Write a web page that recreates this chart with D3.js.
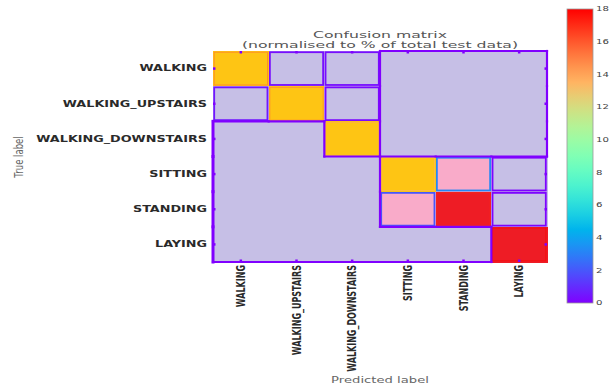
<!DOCTYPE html>
<html>
<head>
<meta charset="utf-8">
<script src="https://cdn.jsdelivr.net/npm/d3@7"></script>
<style>
  html, body { margin: 0; padding: 0; background: #fff; }
  svg { display: block; }
  text { font-family: "DejaVu Sans", sans-serif; }
</style>
</head>
<body>
<svg id="chart" width="614" height="388"></svg>
<script>
// Activity classes (rows = true label, columns = predicted label)
const classes = ["WALKING", "WALKING_UPSTAIRS", "WALKING_DOWNSTAIRS", "SITTING", "STANDING", "LAYING"];

// Confusion matrix, normalised to % of total test data
const rowWalking     = [15.6, 0.3, 0.3, 0, 0, 0];
const rowUpstairs    = [0.5, 15.3, 0.2, 0, 0, 0];
const rowDownstairs  = [0, 0, 13.9, 0, 0, 0];
const rowSitting     = [0, 0, 0, 13.4, 3.2, 0.1];
const rowStanding    = [0, 0, 0, 2.0, 17.0, 0.1];
const rowLaying      = [0, 0, 0, 0, 0, 18.1];
const matrix = [rowWalking, rowUpstairs, rowDownstairs, rowSitting, rowStanding, rowLaying];

const colorbarTicks = [0, 2, 4, 6, 8, 10, 12, 14, 16, 18];

const svg = d3.select("#chart");

// matplotlib-style "rainbow" colour map
function rainbow(t) {
  t = Math.max(0, Math.min(1, t));
  const r = Math.min(1, Math.abs(2 * t - 0.5));
  const g = Math.sin(Math.PI * t);
  const b = Math.cos(Math.PI * t / 2);
  return d3.rgb(r * 255, g * 255, b * 255).formatHex();
}
const edgeColor = d3.scaleSequential(rainbow).domain([0, 18]);
const fillColor = d3.scaleThreshold()
  .domain([1, 8, 16.5])
  .range(["#c6bfe6", "#f9abc9", "#fec514", "#ee1c25"]);

const x = d3.scaleBand().domain(d3.range(6)).range([213, 547]);
const y = d3.scaleBand().domain(d3.range(6)).range([51, 262]);

const cells = [];
matrix.forEach((row, r) => row.forEach((v, c) => cells.push({ r, c, v })));

const g = svg.append("g");

// cell fills
g.selectAll("rect.fill").data(cells).join("rect")
  .attr("class", "fill")
  .attr("x", d => x(d.c)).attr("y", d => y(d.r))
  .attr("width", x.bandwidth() + 0.6).attr("height", y.bandwidth() + 0.6)
  .attr("shape-rendering", "crispEdges")
  .attr("fill", d => fillColor(d.v));

// outlines of non-zero cells, coloured by value
g.selectAll("rect.edge").data(cells.filter(d => d.v > 0)).join("rect")
  .attr("class", "edge")
  .attr("x", d => x(d.c) + 1.2).attr("y", d => y(d.r) + 1.2)
  .attr("width", x.bandwidth() - 2.4).attr("height", y.bandwidth() - 2.4)
  .attr("fill", "none")
  .attr("stroke", d => edgeColor(d.v))
  .attr("stroke-opacity", d => d.v > 8 ? 0.6 : 1)
  .attr("stroke-width", d => d.v > 8 ? 0.9 : 1.8);

// boundary of the zero-valued region
const zeroEdges = [];
const isZero = (r, c) => r >= 0 && r < 6 && c >= 0 && c < 6 && matrix[r][c] === 0;
cells.filter(d => d.v === 0).forEach(d => {
  const x0 = x(d.c), x1 = x(d.c) + x.bandwidth();
  const y0 = y(d.r), y1 = y(d.r) + y.bandwidth();
  if (!isZero(d.r - 1, d.c)) zeroEdges.push([x0, y0, x1, y0]);
  if (!isZero(d.r + 1, d.c)) zeroEdges.push([x0, y1, x1, y1]);
  if (!isZero(d.r, d.c - 1)) zeroEdges.push([x0, y0, x0, y1]);
  if (!isZero(d.r, d.c + 1)) zeroEdges.push([x1, y0, x1, y1]);
});
g.selectAll("line.zero").data(zeroEdges).join("line")
  .attr("class", "zero")
  .attr("x1", d => d[0]).attr("y1", d => d[1])
  .attr("x2", d => d[2]).attr("y2", d => d[3])
  .attr("stroke", edgeColor(0))
  .attr("stroke-width", d => d[0] === 213 && d[2] === 213 ? 3 : 2.2)
  .attr("stroke-linecap", "square");

// tick marks on all four sides (band axes centre them in each cell)
const tickCol = edgeColor(0);
[
  [d3.axisTop(x), "translate(0,51)"],
  [d3.axisBottom(x), "translate(0,262)"],
  [d3.axisLeft(y), "translate(213,0)"],
  [d3.axisRight(y), "translate(547,0)"]
].forEach(([ax, tr]) => {
  const a = svg.append("g").attr("transform", tr)
    .call(ax.tickSize(-2.5).tickFormat(""));
  a.select(".domain").remove();
  a.selectAll(".tick line").attr("stroke", tickCol).attr("stroke-width", 2.5);
});

// row labels
svg.append("g").selectAll("text").data(classes).join("text")
  .attr("transform", (d, i) => `translate(207,${y(i) + y.bandwidth() / 2}) scale(1.6,1)`)
  .attr("text-anchor", "end").attr("dy", "0.35em")
  .attr("font-size", 8).attr("font-weight", "bold").attr("fill", "#2a2a2a")
  .text(d => d);

// column labels (vertical)
svg.append("g").selectAll("text").data(classes).join("text")
  .attr("transform", (d, i) => `translate(${x(i) + x.bandwidth() / 2},265) scale(1.45,1) rotate(-90)`)
  .attr("text-anchor", "end").attr("dy", "0.35em")
  .attr("font-size", 8).attr("font-weight", "bold").attr("fill", "#2a2a2a")
  .text(d => d);

// title
svg.append("text").attr("transform", "translate(380,37.5) scale(1.65,1)")
  .attr("text-anchor", "middle").attr("font-size", 9.5).attr("fill", "#555")
  .text("Confusion matrix");
svg.append("text").attr("transform", "translate(380,47.5) scale(1.65,1)")
  .attr("text-anchor", "middle").attr("font-size", 9.5).attr("fill", "#555")
  .text("(normalised to % of total test data)");

// axis titles
svg.append("text").attr("transform", "translate(23,157) scale(1.45,1) rotate(-90)")
  .attr("text-anchor", "middle").attr("font-size", 8.5).attr("fill", "#666")
  .text("True label");
svg.append("text").attr("transform", "translate(380,383) scale(1.55,1)")
  .attr("text-anchor", "middle").attr("font-size", 8.5).attr("fill", "#666")
  .text("Predicted label");

// colour bar
const cb = d3.scaleLinear().domain([0, 18]).range([303, 9]);
const defs = svg.append("defs");
const grad = defs.append("linearGradient").attr("id", "cbar")
  .attr("x1", 0).attr("y1", 1).attr("x2", 0).attr("y2", 0);
d3.range(0, 1.0001, 0.05).forEach(t => {
  grad.append("stop").attr("offset", t).attr("stop-color", rainbow(t));
});
svg.append("rect").attr("x", 567).attr("y", cb(18))
  .attr("width", 26).attr("height", cb(0) - cb(18))
  .attr("fill", "url(#cbar)").attr("stroke", "#999").attr("stroke-width", 0.8);
svg.append("g").selectAll("text").data(colorbarTicks).join("text")
  .attr("transform", d => `translate(596,${cb(d)}) scale(1.45,1)`)
  .attr("dy", "0.35em").attr("font-size", 7).attr("fill", "#444")
  .text(d => d);
</script>
</body>
</html>
